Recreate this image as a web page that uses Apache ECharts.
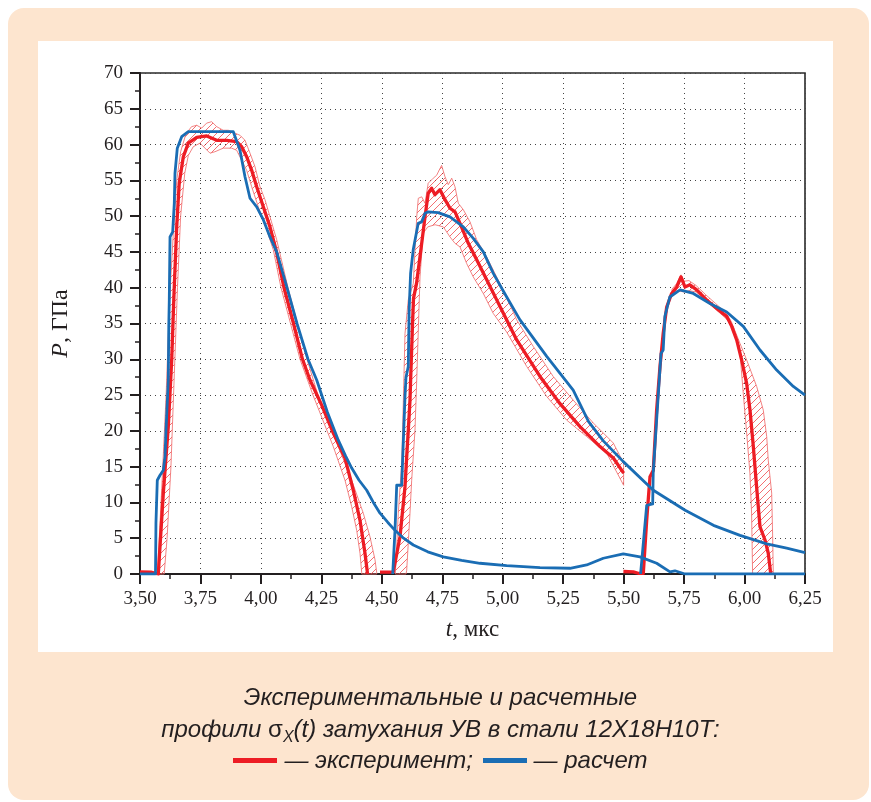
<!DOCTYPE html>
<html>
<head>
<meta charset="utf-8">
<script src="https://cdn.jsdelivr.net/npm/echarts@6/dist/echarts.min.js"></script>
<style>
  html, body { margin:0; padding:0; background:#ffffff; }
  #wrap { position:relative; width:871px; height:802px; overflow:hidden; background:#ffffff; }
  #peach { position:absolute; left:8px; top:8px; width:861px; height:792px; background:#fde5cf; border-radius:16px; }
  #panel { position:absolute; left:38px; top:41px; width:795px; height:611px; background:#ffffff; }
  #chart { position:absolute; left:0; top:0; width:871px; height:802px; }
  #caption { position:absolute; left:0; top:681px; width:881px; text-align:center;
             font-family:"Liberation Sans", Arial, sans-serif; font-style:italic; font-size:24px;
             color:#231f20; line-height:31.5px; letter-spacing:0px; }
  .sw { display:inline-block; width:44px; height:5px; vertical-align:middle; margin-right:7px; position:relative; top:-1px; }
  sub { font-size:16px; vertical-align:-5px; line-height:0; }
  .sig { font-style:normal; }
</style>
</head>
<body>
<div id="wrap">
  <div id="peach"></div>
  <div id="panel"></div>
  <div id="chart"></div>
  <div id="caption">
    Экспериментальные и расчетные<br>
    профили <span class="sig">σ</span><sub>X</sub>(t) затухания УВ в стали 12Х18Н10Т:<br>
    <span class="sw" style="background:#ed1c24"></span>— эксперимент; <span class="sw" style="background:#1a6db4;margin-left:3px"></span>— расчет
  </div>
</div>
<script>
// ---------- data (t, мкс ; P, ГПа) ----------
var xTicks = { min: 3.5, max: 6.25, step: 0.25 };
var yTicks = { min: 0, max: 70, step: 5 };

// calculated (blue)
var calc1 = [[3.50,0],[3.564,0],[3.565,3.1],[3.566,7.1],[3.5715,13.1],[3.5827,13.8],[3.5964,14.5],[3.6034,16.4],[3.6075,20.1],
  [3.6170,27.1],[3.6190,34.6],[3.6211,38.3],[3.6241,47.1],[3.6352,47.8],[3.6418,51.8],[3.6447,56],[3.6542,59.5],[3.6724,61.1],
  [3.6997,61.8],[3.8858,61.8],[3.9135,59.2],[3.9342,55.5],[3.9549,52.5],[3.9826,51.3],[4.0099,49.5],[4.0376,47.1],[4.0653,45.0],
  [4.1079,40],[4.1492,35],[4.1947,30],[4.2307,27.1],[4.2750,22.6],[4.3200,18.7],[4.3500,16.5],[4.3754,14.8],[4.4060,13.1],
  [4.4375,11.7],[4.4650,10.0],[4.4925,8.5],[4.5250,7.2],[4.5545,6.1],[4.5900,5.0],
  [4.6302,4.05],[4.6900,3.1],[4.7542,2.4],[4.830,1.9],[4.906,1.5],[5.0164,1.16],[5.1541,0.88],[5.2782,0.8],[5.3472,1.26],[5.4159,2.2],[5.4986,2.8],
  [5.5675,2.4],[5.6366,1.5],[5.6916,0.3],[5.7122,0.45],[5.7536,0],[6.25,0]];
var calc2 = [[4.545,0],[4.5545,6.1],[4.5616,12.4],[4.5822,12.4],[4.5959,24.8],[4.6000,27.5],[4.6094,29],[4.6130,37],[4.6190,42],
  [4.6298,45.3],[4.6505,49],[4.6649,49.2],[4.6786,50.4],[4.6918,50.6],[4.7331,50.5],[4.7819,49.9],[4.8370,48.5],[4.8783,46.9],
  [4.9197,45],[4.9610,42],[5.0164,38.7],[5.0714,35.5],[5.1819,30.4],[5.2914,25.7],[5.355,21.3],[5.4159,18.6],[5.4986,15.7],
  [5.6227,11.7],[5.7544,8.9],[5.8714,6.8],[5.9813,5.4],[6.0916,4.2],[6.1743,3.6],[6.25,3.0]];
var calc3 = [[5.570,0],[5.5747,0.2],[5.5953,9.6],[5.6201,9.8],[5.6223,14.1],[5.6364,21.5],[5.6545,30.8],[5.6636,31.3],[5.6706,36],
  [5.6909,38.7],[5.7331,39.7],[5.7881,39.2],[5.8569,37.8],[5.9262,36.6],[5.9948,34.6],[6.0639,31.3],[6.1328,28.5],[6.2016,26.2],[6.25,25.0]];

// experiment (red)
var exp1 = [[3.50,0.3],[3.545,0.25],[3.552,0],[3.5757,0],[3.5964,11.3],[3.6170,20.6],[3.6311,29.9],[3.6406,39.2],[3.6518,48.5],
  [3.6621,54.6],[3.6791,58.3],[3.6997,60.2],[3.7345,61.0],[3.7758,61.2],[3.8172,60.6],[3.8585,60.6],[3.8999,60.4],[3.9205,59.7],
  [3.9412,58.3],[3.9619,56.4],[3.9826,54.1],[4.0099,51.3],[4.0376,48.5],[4.0624,45.3],[4.0955,40],[4.1348,35],[4.1720,30],
  [4.2030,27.1],[4.2514,23.6],[4.2993,19.7],[4.3477,16.2],[4.3821,11.7],[4.4098,7.5],[4.4304,2.9],[4.4400,0.3],[4.441,0]];
var exp2 = [[4.4925,0.25],[4.5472,0.25],[4.5545,0.3],[4.5752,5.2],[4.5959,12.2],[4.6029,16.4],[4.6095,20.1],[4.6165,24.3],
  [4.6200,28],[4.6260,34],[4.6310,38.5],[4.6436,40.6],[4.6649,46.2],[4.6786,49.9],[4.6918,53.2],[4.7059,53.9],[4.7199,53],
  [4.7406,53.7],[4.7613,52.3],[4.7819,51.1],[4.8026,50.6],[4.8233,49],[4.8577,46.2],[4.8924,43.9],[4.9337,41.1],[4.9751,38.3],
  [5.0164,35.5],[5.0578,32.7],[5.1541,27.6],[5.2368,23.8],[5.3195,20.6],[5.4022,17.8],[5.4573,16.2],[5.50,14.1]];
var exp3 = [[5.499,0.35],[5.54,0.3],[5.56,0.1],[5.5813,0.1],[5.5953,7.5],[5.6090,13.6],[5.6227,14.5],[5.6364,22.9],[5.6504,29],
  [5.6636,33.6],[5.6781,37.3],[5.6987,39.2],[5.7194,40.1],[5.7372,41.5],[5.7536,40.1],[5.7743,40.4],[5.8021,39.7],[5.8434,38.3],
  [5.8848,37.1],[5.9262,36],[5.9468,34.6],[5.9675,32.7],[5.9881,29.9],[6.0088,26.6],[6.0226,22.9],[6.0363,17.8],[6.0498,12.2],
  [6.0639,6.6],[6.0846,4.75],[6.0981,2.9],[6.1080,0.1]];

// uncertainty bands (closed outlines)
var band1 = [[3.572,0],[3.590,12],[3.608,25],[3.622,38],[3.640,49],[3.652,55],[3.668,59],[3.690,61.5],[3.7132,62.5],[3.7345,62.7],
  [3.7551,62.3],[3.7758,63],[3.7965,63.2],[3.8172,62.5],[3.8441,62],[3.8651,62],[3.8929,61.6],[3.9135,61.3],[3.9342,60.6],
  [3.9549,58.8],[3.9756,56.9],[3.9962,54.1],[4.0169,52.3],[4.0376,49.9],[4.0653,46.7],[4.112,40],[4.1906,30],[4.236,25],
  [4.320,17.8],[4.3754,13.1],[4.4234,8.5],[4.4511,5.2],[4.4718,2],[4.4788,0.2],[4.479,0],
  [4.4168,0],[4.4168,0.2],[4.4098,2.9],[4.3962,6.1],[4.3754,9.4],[4.3477,13.1],[4.2993,17.8],[4.2154,25],[4.1617,30],[4.0831,40],
  [4.0512,45.3],[4.0236,48.1],[3.9892,51.3],[3.9619,54.1],[3.9412,56.4],[3.9205,57.8],[3.8999,59.2],[3.8792,59.5],[3.8441,59.5],
  [3.8101,59],[3.7895,58.8],[3.7481,60.2],[3.7204,59.7],[3.700,58.5],[3.685,56],[3.668,50],[3.655,40],[3.642,28],[3.628,15],
  [3.612,5],[3.600,0]];
var band2 = [[4.556,0],[4.5616,3.8],[4.5682,8.5],[4.5822,15.5],[4.586,20],[4.5959,33.6],[4.6094,38.3],[4.6302,40.6],[4.6443,49.9],
  [4.6509,52.5],[4.6649,52.7],[4.6786,51.8],[4.6918,54.6],[4.7125,55.3],[4.7265,55.7],[4.7472,57.1],[4.7613,55.5],[4.7749,54.4],
  [4.7890,55.3],[4.8026,54.1],[4.8163,51.8],[4.8370,50.9],[4.8646,49.2],[4.8924,46.7],[4.9337,44.3],[4.9751,41.5],[5.0164,38.7],
  [5.0578,35.5],[5.1261,31.8],[5.2087,27.6],[5.2914,24.3],[5.3745,21.1],[5.4573,18.3],[5.50,15.5],
  [5.50,12.4],[5.4298,16.9],[5.3471,19.2],[5.2645,21.5],[5.1819,24.8],[5.0991,29],[5.0164,33.8],[4.9610,36.4],[4.9197,39.2],
  [4.8783,41.5],[4.8507,43.4],[4.8233,45.7],[4.8026,46.2],[4.7819,47.1],[4.7542,48.5],[4.720,48.8],[4.690,48.5],[4.6711,47.6],
  [4.6579,41.5],[4.6443,27.1],[4.6372,20.1],[4.6235,13.1],[4.6165,8.5],[4.6029,0.5],[4.600,0]];
var band3 = [[5.70,39.8],[5.72,40.6],[5.737,41.8],[5.75,40.9],[5.77,41.0],[5.80,40.3],[5.84,39.0],[5.88,37.8],[5.92,36.6],
  [5.945,35.3],[5.9813,32.2],[6.0088,29.9],[6.0502,26.2],[6.0775,22.9],[6.0916,19.2],[6.0981,15.9],[6.1122,11.3],[6.1163,5.2],
  [6.1188,0.1],[6.119,0],
  [6.0333,0],[6.0333,0.1],[6.0291,8.5],[6.0222,14.1],[6.0088,19.7],[5.9948,25.2],[5.9813,30.8],[5.9536,34.6],[5.92,35.8],
  [5.88,37.0],[5.84,38.2],[5.80,39.4],[5.77,39.6],[5.75,39.4],[5.72,39.6],[5.70,39.0]];

// ---------- styling ----------
var RED = '#ed1c24', BLUE = '#1a6db4', INK = '#231f20';

function makeHatch() {
  var c = document.createElement('canvas');
  var s = 7; c.width = s; c.height = s;
  var g = c.getContext('2d');
  g.strokeStyle = 'rgba(237,40,45,0.75)';
  g.lineWidth = 0.9;
  g.beginPath();
  g.moveTo(-1, s + 1); g.lineTo(s + 1, -1);
  g.moveTo(-1, 1); g.lineTo(1, -1);
  g.moveTo(s - 1, s + 1); g.lineTo(s + 1, s - 1);
  g.stroke();
  return c;
}
var hatch = makeHatch();

function bandSeries(poly) {
  return {
    type: 'custom',
    coordinateSystem: 'cartesian2d',
    silent: true,
    z: 1,
    data: [poly[0]],
    renderItem: function (params, api) {
      var pts = poly.map(function (p) { return api.coord(p); });
      return {
        type: 'polygon',
        shape: { points: pts },
        style: { fill: { image: hatch, repeat: 'repeat' }, stroke: 'rgba(240,110,110,0.85)', lineWidth: 1 }
      };
    }
  };
}
function lineSeries(data, color, width, z) {
  return { type: 'line', data: data, showSymbol: false, symbol: 'none', z: z,
           lineStyle: { color: color, width: width, join: 'round' }, silent: true };
}

var chart = echarts.init(document.getElementById('chart'), null, { renderer: 'canvas' });
var tickFont = { fontFamily: '"Liberation Serif", "Times New Roman", serif', fontSize: 19, color: INK };

chart.setOption({
  animation: false,
  backgroundColor: 'transparent',
  grid: { left: 140, right: 66, top: 73, bottom: 228, show: true, borderColor: '#2a2a2a', borderWidth: 1.6,
          backgroundColor: 'transparent' },
  xAxis: {
    type: 'value', min: xTicks.min, max: xTicks.max, interval: xTicks.step,
    name: '{i|t}, мкс', nameLocation: 'middle', nameGap: 44,
    nameTextStyle: { fontFamily: '"Liberation Serif", serif', fontSize: 23, color: INK,
                     rich: { i: { fontStyle: 'italic', fontFamily: '"Liberation Serif", serif', fontSize: 23, color: INK } } },
    axisLine: { show: true, onZero: false, lineStyle: { color: INK, width: 2 } },
    axisTick: { show: true, length: 10, lineStyle: { color: INK, width: 2 } },
    minorTick: { show: true, splitNumber: 2, length: 5, lineStyle: { color: INK, width: 1.5 } },
    splitLine: { show: true, lineStyle: { type: [1, 4], color: '#444', width: 1 } },
    axisLabel: Object.assign({ margin: 16, formatter: function (v) { return v.toFixed(2).replace('.', ','); } }, tickFont)
  },
  yAxis: {
    type: 'value', min: yTicks.min, max: yTicks.max, interval: yTicks.step,
    name: '{i|P}, ГПа', nameLocation: 'middle', nameGap: 67, nameRotate: 90,
    nameTextStyle: { fontFamily: '"Liberation Serif", serif', fontSize: 24, color: INK,
                     rich: { i: { fontStyle: 'italic', fontFamily: '"Liberation Serif", serif', fontSize: 24, color: INK } } },
    axisLine: { show: true, onZero: false, lineStyle: { color: INK, width: 2 } },
    axisTick: { show: true, length: 10, lineStyle: { color: INK, width: 2 } },
    minorTick: { show: true, splitNumber: 2, length: 5, lineStyle: { color: INK, width: 1.5 } },
    splitLine: { show: true, lineStyle: { type: [1, 4], color: '#444', width: 1 } },
    axisLabel: Object.assign({ margin: 17 }, tickFont)
  },
  series: [
    bandSeries(band1), bandSeries(band2), bandSeries(band3),
    lineSeries(exp1, RED, 3.3, 3), lineSeries(exp2, RED, 3.3, 3), lineSeries(exp3, RED, 3.3, 3),
    lineSeries(calc1, BLUE, 2.8, 4), lineSeries(calc2, BLUE, 2.8, 4), lineSeries(calc3, BLUE, 2.8, 4)
  ]
});
</script>
</body>
</html>
